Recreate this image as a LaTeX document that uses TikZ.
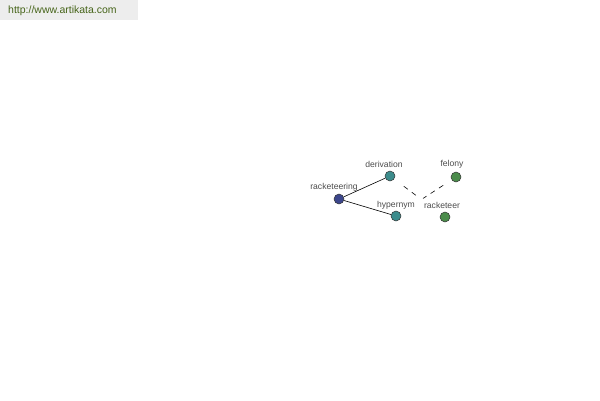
\documentclass[tikz,border=0pt]{standalone}
\usepackage{fontspec}
\setmainfont{Liberation Sans}
\begin{document}
\begin{tikzpicture}[x=1pt,y=-1pt,
  vert/.style={circle,draw=black!80,line width=0.5pt,minimum size=10pt,inner sep=0pt},
  lab/.style={font=\fontsize{8.6pt}{9pt}\selectfont,text=black!70,inner sep=0pt},
  edge/.style={black,line width=0.6pt},
  dedge/.style={black,line width=0.6pt,dash pattern=on 5pt off 5pt}]
\useasboundingbox (0,0) rectangle (600,400);
\fill[black!7] (0,0) rectangle (138,20);
\node[anchor=west,font=\fontsize{10.5pt}{11pt}\selectfont,text={rgb,255:red,70;green,100;blue,25},inner sep=0pt] (url) at (8,11) {http://www.artikata.com};
\node[vert,fill={rgb,255:red,60;green,70;blue,140}] (a) at (339,199) {};
\node[vert,fill={rgb,255:red,60;green,140;blue,140}] (d) at (390,176) {};
\node[vert,fill={rgb,255:red,60;green,140;blue,140}] (h) at (396,216) {};
\node[vert,fill={rgb,255:red,75;green,140;blue,75}] (f) at (456,177) {};
\node[vert,fill={rgb,255:red,75;green,140;blue,75}] (r) at (445,217) {};
\node[lab] (la) at (334,187) {racketeering};
\node[lab] (ld) at (384,164) {derivation};
\node[lab] (lh) at (396,205) {hypernym};
\node[lab] (lf) at (452,164) {felony};
\node[lab] (lr) at (442,205) {racketeer};
\draw[edge] (a) -- (d);
\draw[edge] (a) -- (h);
\draw[dedge,shorten >=28pt,shorten <=12pt] (d) -- (r);
\draw[dedge,shorten >=27pt,shorten <=10pt] (f) -- (h);
\end{tikzpicture}
\end{document}
